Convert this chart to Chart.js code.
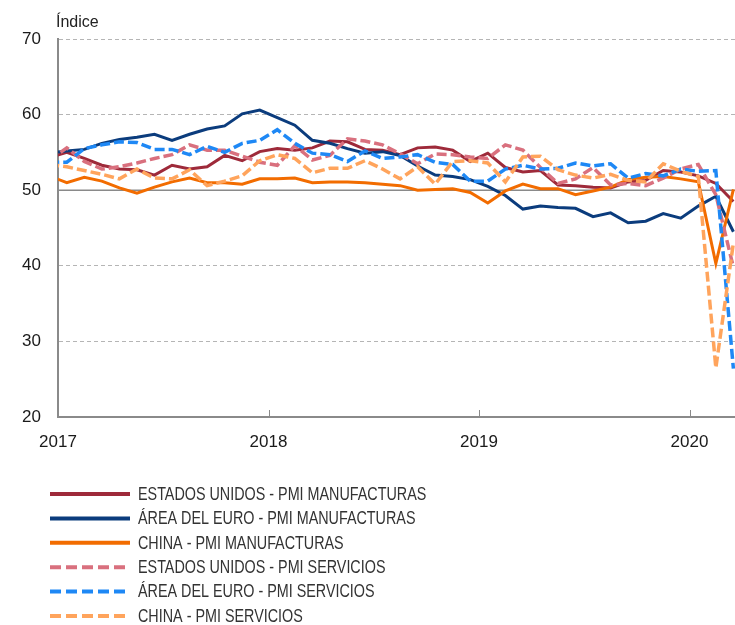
<!DOCTYPE html>
<html>
<head>
<meta charset="utf-8">
<script src="https://cdn.jsdelivr.net/npm/chart.js@4/dist/chart.umd.min.js"></script>
<style>
html,body{margin:0;padding:0;background:#fff;}
#wrap{width:735px;height:625px;position:relative;}
</style>
</head>
<body>
<div id="wrap"><canvas id="c" width="735" height="625"></canvas></div>
<script>
// Monthly observations, Dec 2016 - Mar 2020
const months = ['2016-12',
 '2017-01','2017-02','2017-03','2017-04','2017-05','2017-06','2017-07','2017-08','2017-09','2017-10','2017-11','2017-12',
 '2018-01','2018-02','2018-03','2018-04','2018-05','2018-06','2018-07','2018-08','2018-09','2018-10','2018-11','2018-12',
 '2019-01','2019-02','2019-03','2019-04','2019-05','2019-06','2019-07','2019-08','2019-09','2019-10','2019-11','2019-12',
 '2020-01','2020-02','2020-03'];

const usManuf = [54.3, 55.0,54.2,53.3,52.8,52.7,52.0,53.3,52.8,53.1,54.6,53.9,55.1,
 55.5,55.3,55.6,56.5,56.4,55.4,55.3,54.7,55.6,55.7,55.3,53.8,
 54.9,53.0,52.4,52.6,50.7,50.6,50.4,50.3,51.1,51.3,52.6,52.4,
 51.9,50.9,48.5];
const euManuf = [54.9, 55.2,55.4,56.2,56.7,57.0,57.4,56.6,57.4,58.1,58.5,60.1,60.6,
 59.6,58.6,56.6,56.2,55.5,54.9,55.1,54.6,53.2,52.0,51.8,51.4,
 50.5,49.3,47.5,47.9,47.7,47.6,46.5,47.0,45.7,45.9,46.9,46.3,
 47.9,49.2,44.5];
const cnManuf = [51.9, 51.0,51.7,51.2,50.3,49.6,50.4,51.1,51.6,51.0,51.0,50.8,51.5,
 51.5,51.6,51.0,51.1,51.1,51.0,50.8,50.6,50.0,50.1,50.2,49.7,
 48.3,49.9,50.8,50.2,50.2,49.4,49.9,50.4,51.4,51.7,51.8,51.5,
 51.1,40.3,50.1];
const usServ = [53.9, 55.6,53.8,52.8,53.1,53.6,54.2,54.7,56.0,55.3,55.3,54.5,53.7,
 53.3,55.9,54.0,54.6,56.8,56.5,56.0,54.8,53.5,54.8,54.7,54.4,
 54.2,56.0,55.3,53.0,50.9,51.5,53.0,50.7,50.9,50.6,51.6,52.8,
 53.4,49.4,39.8];
const euServ = [53.7, 53.7,55.5,56.0,56.4,56.3,55.4,55.4,54.7,55.8,55.0,56.2,56.6,
 58.0,56.2,54.9,54.7,53.8,55.2,54.2,54.4,54.7,53.7,53.4,51.2,
 51.2,52.8,53.3,52.8,52.9,53.6,53.2,53.5,51.6,52.2,51.9,52.8,
 52.5,52.6,26.4];
const cnServ = [53.4, 53.1,52.6,52.1,51.5,52.8,51.6,51.5,52.7,50.6,51.2,51.9,53.9,
 54.7,54.2,52.3,52.9,52.9,53.9,52.8,51.5,53.1,50.8,53.8,53.9,
 53.6,51.1,54.4,54.5,52.7,52.0,51.6,52.1,51.3,51.1,53.5,52.5,
 51.8,26.5,43.0];

const seriesNames = [
 'ESTADOS UNIDOS - PMI MANUFACTURAS',
 'ÁREA DEL EURO - PMI MANUFACTURAS',
 'CHINA - PMI MANUFACTURAS',
 'ESTADOS UNIDOS - PMI SERVICIOS',
 'ÁREA DEL EURO - PMI SERVICIOS',
 'CHINA - PMI SERVICIOS'];
const yearTicks = [2017, 2018, 2019, 2020];
const yTicks = [20, 30, 40, 50, 60, 70];
const axisTitle = 'Índice';

const colors = ['#9E2A3A', '#0B3C7D', '#F26C00', '#D9707E', '#1E88F5', '#FFA45C'];
const dashed = [false, false, false, true, true, true];
const allSeries = [usManuf, euManuf, cnManuf, usServ, euServ, cnServ];

// month label -> decimal year at mid-month
function monthToX(m) {
  const [y, mo] = m.split('-').map(Number);
  return y + (mo - 0.5) / 12;
}

const datasets = allSeries.map((vals, i) => ({
  label: seriesNames[i],
  data: vals.map((v, k) => ({x: monthToX(months[k]), y: v})),
  borderColor: colors[i],
  backgroundColor: colors[i],
  borderWidth: dashed[i] ? 3.5 : 3,
  borderDash: dashed[i] ? [10, 4] : [],
  pointRadius: 0,
  tension: 0,
  fill: false,
  order: -i,
  clip: 0
}));

const FONT = '"Liberation Sans", Arial, sans-serif';

const extras = {
  id: 'extras',
  beforeDatasetsDraw(chart) {
    const {ctx, chartArea: a, scales: {y}} = chart;
    ctx.save();
    const y50 = y.getPixelForValue(50);
    ctx.strokeStyle = '#8a8a8a';
    ctx.lineWidth = 1.5;
    ctx.beginPath();
    ctx.moveTo(a.left, y50);
    ctx.lineTo(a.right, y50);
    ctx.stroke();
    ctx.restore();
  },
  afterDraw(chart) {
    const {ctx, chartArea: a, scales: {x}} = chart;
    ctx.save();
    // inside tick marks on x axis
    ctx.strokeStyle = '#8a8a8a';
    ctx.lineWidth = 1;
    yearTicks.forEach(t => {
      if (t === yearTicks[0]) return;
      const px = Math.round(x.getPixelForValue(t)) + 0.5;
      ctx.beginPath();
      ctx.moveTo(px, a.bottom);
      ctx.lineTo(px, a.bottom - 7);
      ctx.stroke();
    });
    // axis title
    ctx.fillStyle = '#222';
    ctx.font = '16px ' + FONT;
    ctx.textAlign = 'left';
    ctx.textBaseline = 'alphabetic';
    ctx.fillText(axisTitle, a.left - 2, 27);
    // legend
    const rowY0 = 494, rowH = 24.4, sx = 0.82;
    ctx.font = '17.5px ' + FONT;
    ctx.textBaseline = 'middle';
    chart.data.datasets.forEach((ds, i) => {
      const yy = rowY0 + i * rowH;
      ctx.beginPath();
      ctx.strokeStyle = ds.borderColor;
      ctx.lineWidth = 4;
      ctx.setLineDash(dashed[i] ? [11, 5] : []);
      ctx.moveTo(50, yy);
      ctx.lineTo(130, yy);
      ctx.stroke();
      ctx.setLineDash([]);
      ctx.save();
      ctx.translate(138, yy + 1);
      ctx.scale(sx, 1);
      ctx.fillStyle = '#333';
      ctx.fillText(ds.label, 0, 0);
      ctx.restore();
    });
    ctx.restore();
  }
};

new Chart(document.getElementById('c'), {
  type: 'line',
  data: {datasets},
  options: {
    responsive: false,
    animation: false,
    events: [],
    layout: {padding: {top: 39, right: 0, bottom: 168, left: 0}},
    plugins: {legend: {display: false}, tooltip: {enabled: false}},
    scales: {
      x: {
        type: 'linear',
        min: 2017,
        max: 2020.216,
        afterBuildTicks: s => { s.ticks = yearTicks.map(v => ({value: v})); },
        afterFit: s => { s.height = 40; },
        grid: {display: false},
        border: {display: true, color: '#8a8a8a', width: 2},
        ticks: {
          padding: 7,
          color: '#1a1a1a',
          font: {size: 17, family: FONT},
          callback: v => String(v),
          maxRotation: 0,
          autoSkip: false
        }
      },
      y: {
        min: 20,
        max: 70,
        afterBuildTicks: s => { s.ticks = yTicks.map(v => ({value: v})); },
        afterFit: s => { s.width = 58; },
        grid: {
          drawTicks: false,
          color: c => (c.tick && (c.tick.value === 50 || c.tick.value === 20)) ? 'rgba(0,0,0,0)' : '#b5b5b5',
          lineWidth: 1
        },
        border: {display: true, color: '#8a8a8a', width: 2, dash: [4, 3]},
        ticks: {
          padding: 17,
          color: '#1a1a1a',
          font: {size: 17, family: FONT}
        }
      }
    }
  },
  plugins: [extras]
});
</script>
</body>
</html>
